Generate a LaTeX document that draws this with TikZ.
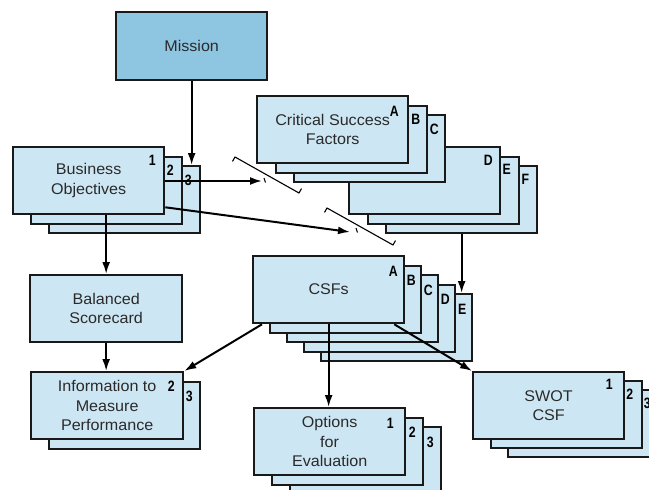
\documentclass[tikz,border=0pt]{standalone}
\usepackage{fontspec}
\setmainfont{Liberation Sans}[FakeStretch=1.04]
\newfontfamily\tagfont[FakeStretch=0.82]{Liberation Sans}
\usetikzlibrary{arrows.meta,calc}
\definecolor{cardblue}{HTML}{CDE6F3}
\definecolor{missionblue}{HTML}{8EC6E2}
\definecolor{inkgray}{HTML}{2A2A2A}
\tikzset{
  card/.style={draw=black!90, line width=2.3pt, fill=cardblue, minimum width=151pt,
    minimum height=67pt, inner sep=0pt, anchor=north west, align=center,
    text=inkgray, font=\fontsize{15.5}{19.5}\selectfont},
  tag/.style={font=\tagfont\bfseries\fontsize{15}{14}\selectfont, inner sep=0pt},
  arr/.style={line width=2pt, -{Latex[length=12pt,width=8pt]}},
  brk/.style={line width=1.1pt},
}
\begin{document}
\begin{tikzpicture}[x=1pt,y=-1pt]
\clip (0,0) rectangle (649,490);
\fill[white] (0,0) rectangle (649,490);

% mission
\node[card, fill=missionblue, minimum height=68pt] (mission) at (115,11) {Mission};

% business objectives
\foreach \i/\t in {2/3,1/2} {
  \node[card] (bo\t) at ({12+18*\i},{146+9.5*\i}) {};
  \node[tag] (bo\t tag) at ($(bo\t.north east)+(-13,15)$) {\t};
}
\node[card] (bo1) at (12,146) {Business\\Objectives};
\node[tag] (bo1tag) at ($(bo1.north east)+(-13,14)$) {1};

% critical success factors
\foreach \i/\t in {2/F,1/E,0/D} {
  \node[card] (csf\t) at ({348+18.5*\i},{146+9.5*\i}) {};
  \node[tag] (csf\t tag) at ($(csf\t.north east)+(-13,14)$) {\t};
}
\foreach \i/\t in {2/C,1/B} {
  \node[card] (csf\t) at ({256+18.5*\i},{95+9.5*\i}) {};
  \node[tag] (csf\t tag) at ($(csf\t.north east)+(-12,15)$) {\t};
}
\node[card] (csfA) at (256,95) {Critical Success\\Factors};
\node[tag] (csfAtag) at ($(csfA.north east)+(-15,16)$) {A};

% csfs
\foreach \i/\t in {4/E,3/D,2/C,1/B} {
  \node[card] (cs\t) at ({252+17*\i},{255+9.5*\i}) {};
  \node[tag] (cs\t tag) at ($(cs\t.north east)+(-11,16)$) {\t};
}
\node[card] (csA) at (252,255) {CSFs};
\node[tag] (csAtag) at ($(csA.north east)+(-12,16)$) {A};

% balanced scorecard
\node[card, minimum width=152pt] (bal) at (29,274) {Balanced\\Scorecard};

% information to measure performance
\node[card] (info3) at (48,381) {};
\node[tag] (info3tag) at ($(info3.north east)+(-12,15)$) {3};
\node[card, minimum width=152pt] (info2) at (30,371) {Information to\\Measure\\Performance};
\node[tag] (info2tag) at ($(info2.north east)+(-13,15)$) {2};

% options for evaluation
\foreach \i/\t in {2/3,1/2} {
  \node[card] (opt\t) at ({253+18*\i},{407+9.5*\i}) {};
  \node[tag] (opt\t tag) at ($(opt\t.north east)+(-12,16)$) {\t};
}
\node[card] (opt1) at (253,407) {Options\\for\\Evaluation};
\node[tag] (opt1tag) at ($(opt1.north east)+(-16,16)$) {1};

% swot csf
\foreach \i/\t in {2/3,1/2} {
  \node[card] (swot\t) at ({472+17.5*\i},{371+9*\i}) {};
  \node[tag] (swot\t tag) at ($(swot\t.north east)+(-13,14)$) {\t};
}
\node[card] (swot1) at (472,371) {SWOT\\CSF};
\node[tag] (swot1tag) at ($(swot1.north east)+(-16,13)$) {1};

% break marks
\coordinate (brk1) at (262,181);
\coordinate (brk2) at (350,232);
\draw[brk] (232.5,161.4) -- (235,157) -- (299,193) -- (301.5,188.6);
\draw[brk] (264,178) -- (265.5,182.5);
\draw[brk] (324.5,212.4) -- (327,208) -- (393,245) -- (395.5,240.6);
\draw[brk] (356,228) -- (357.5,232.5);

% connectors
\draw[arr] (mission.south) -- (mission.south |- bo3.north);
\draw[arr] (bal.north |- bo1.south) -- (bal.north);
\draw[arr] (bal.south) -- (bal.south |- info2.north);
\draw[arr] ($(bo1.north east)+(0,35)$) -- (brk1);
\draw[arr] ($(bo1.south east)+(0,-8)$) -- (brk2);
\draw[arr] (csfF.south) -- (csfF.south |- csE.north);
\draw[arr] ($(csA.south west)+(10,0)$) -- (info2.north east);
\draw[arr] (csA.south) -- (csA.south |- opt1.north);
\draw[arr] ($(csA.south east)+(-11,0)$) -- (swot1.north west);
\end{tikzpicture}
\end{document}
